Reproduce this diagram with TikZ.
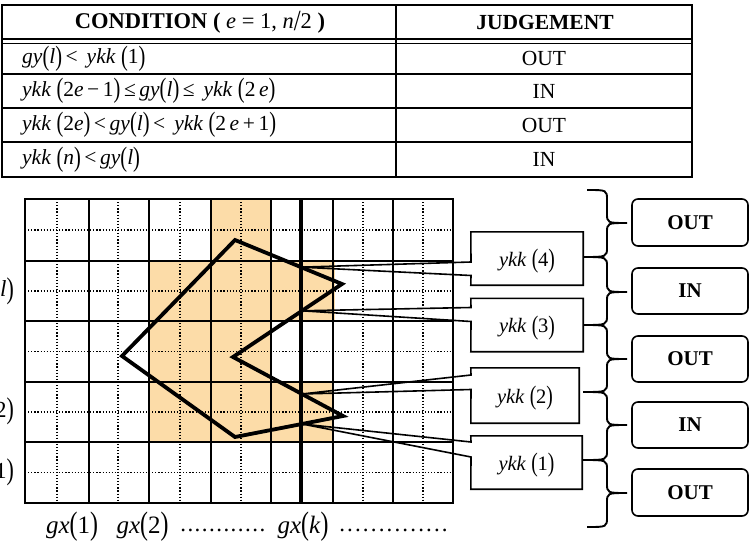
\documentclass[tikz,border=0pt]{standalone}
\usepackage{fontspec}
\usepackage{graphicx}
\setmainfont{Liberation Serif}
\usetikzlibrary{calc}
\definecolor{cellfill}{RGB}{252,220,168}
% tall delimiters and italic variables
\newcommand\bp[1]{\raisebox{-0.07em}{\scalebox{0.95}[1.3]{(}}#1\raisebox{-0.07em}{\scalebox{0.95}[1.3]{)}}}
\newcommand\vi[1]{\textit{#1}}
\newcommand\fs[1]{\fontsize{#1}{#1}\selectfont}
% one dot centred in a box of the given width
\newcommand\dt[1]{\makebox[#1]{.}}

\begin{document}
\begin{tikzpicture}[x=1pt,y=-1pt,
  tline/.style={line width=2.4pt},
  major/.style={line width=1.8pt},
  minor/.style={line width=1.2pt, dash pattern=on 1.2pt off 1.9pt},
  poly/.style={line width=3.8pt, line join=miter},
  callline/.style={line width=1.6pt, line join=miter},
  callbox/.style={inner sep=0pt, minimum width=112pt, minimum height=53pt},
  calltext/.style={inner sep=0pt, font=\fs{20.5}},
  brace/.style={line width=1.9pt},
  verdict/.style={draw, line width=1.6pt, rounded corners=6pt, minimum width=116pt,
    minimum height=47pt, font=\fs{21}\bfseries, inner sep=0pt},
  cell/.style={inner sep=0pt, font=\fs{21.5}},
  axlabel/.style={inner sep=0pt, font=\fs{23}},
]
\useasboundingbox (0,0) rectangle (750,543);

% ---------- condition table ----------
\draw[tline] (2,5) rectangle (692,177);
\draw[tline] (2,39) -- (692,39);
\draw[line width=1.6pt] (2,43.5) -- (692,43.5);
\foreach \y in {74,108,142} \draw[tline] (2,\y) -- (692,\y);
\draw[tline] (396,5) -- (396,177);

\node[cell, font=\fs{22.5}] (hc) at (200,22) {\textbf{CONDITION (} \vi{e} = 1, \vi{n}\raisebox{-0.07em}{\scalebox{1.1}[1.3]{/}}2 \textbf{)}};
\node[cell, font=\fs{21.5}] (hj) at (545,22) {\textbf{JUDGEMENT}};

\node[cell, anchor=west] (c1) at (22,58.7) {\vi{gy}\bp{\vi{l}}\,{<}\, \vi{ykk} \bp{1}};
\node[cell, anchor=west] (c2) at (22,91) {\vi{ykk} \bp{2\vi{e}\,−\,1}\,≤\,\vi{gy}\bp{\vi{l}}\,≤\, \vi{ykk} \bp{2\,\vi{e}}};
\node[cell, anchor=west] (c3) at (22,125) {\vi{ykk} \bp{2\vi{e}}\,{<}\,\vi{gy}\bp{\vi{l}}\,{<}\, \vi{ykk} \bp{2\,\vi{e}\,+\,1}};
\node[cell, anchor=west] (c4) at (22,159.5) {\vi{ykk} \bp{\vi{n}}\,{<}\,\vi{gy}\bp{\vi{l}}};

\node[cell] (j1) at (544,58.7) {OUT};
\node[cell] (j2) at (544,91) {IN};
\node[cell] (j3) at (544,125) {OUT};
\node[cell] (j4) at (544,159.5) {IN};

% ---------- grid ----------
\fill[cellfill] (210,199) rectangle (271,261);
\fill[cellfill] (149,261) rectangle (335,321);
\fill[cellfill] (149,321) rectangle (271,382);
\fill[cellfill] (149,382) rectangle (333,442);

\foreach \x in {57,118,180,241,363,423} \draw[minor] (\x,199) -- (\x,503);
\foreach \y in {230,291,351.5,412,472.5} \draw[minor] (25,\y) -- (453,\y);
\foreach \x in {89,149,211,271,333,393} \draw[major] (\x,199) -- (\x,503);
\foreach \y in {261,321,382,442} \draw[major] (25,\y) -- (453,\y);
\draw[major] (25,199) rectangle (453,503);
\draw[line width=4pt] (301,199) -- (301,502);

% ---------- polygon ----------
\coordinate (A) at (235,240);
\coordinate (B) at (342,284);
\coordinate (C) at (233,357);
\coordinate (D) at (343,416);
\coordinate (E) at (235,437);
\coordinate (F) at (122,356);
\draw[poly] (A) -- (B) -- (C) -- (D) -- (E) -- (F) -- cycle;

\coordinate (p4) at ($(A)!0.617!(B)$);
\coordinate (p3) at ($(B)!0.367!(C)$);
\coordinate (p2) at ($(C)!0.627!(D)$);
\coordinate (p1) at ($(D)!0.38!(E)$);

% ---------- callouts ----------
\node[callbox] (k4) at (527,258.5) {};
\node[callbox] (k3) at (527,325) {};
\node[callbox, minimum width=108pt, minimum height=55pt] (k2) at (525,395.5) {};
\node[callbox, minimum width=111pt] (k1) at (526.5,462.5) {};
\node[calltext] (k4t) at ($(k4.center)+(0,3)$) {\vi{ykk} \bp{4}};
\node[calltext] (k3t) at ($(k3.center)+(0,3)$) {\vi{ykk} \bp{3}};
\node[calltext] (k2t) at ($(k2.center)+(0,3)$) {\vi{ykk} \bp{2}};
\node[calltext] (k1t) at ($(k1.center)+(0,3)$) {\vi{ykk} \bp{1}};

\coordinate (k4a) at (471,262);   \coordinate (k4b) at (471,275.5);
\coordinate (k3a) at (471,307.5); \coordinate (k3b) at (471,321.5);
\coordinate (k2a) at (471,375);   \coordinate (k2b) at (471,389.5);
\coordinate (k1a) at (471,442);   \coordinate (k1b) at (471,457);

\draw[callline] (k4.north west) -- (k4.north east) -- (k4.south east) -- (k4.south west) -- (k4b) -- (p4) -- (k4a) -- cycle;
\draw[callline] (k3.north west) -- (k3.north east) -- (k3.south east) -- (k3.south west) -- (k3b) -- (p3) -- (k3a) -- cycle;
\draw[callline] (k2.north west) -- (k2.north east) -- (k2.south east) -- (k2.south west) -- (k2b) -- (p2) -- (k2a) -- cycle;
\draw[callline] (k1.north west) -- (k1.north east) -- (k1.south east) -- (k1.south west) -- (k1b) -- (p1) -- (k1a) -- cycle;

% ---------- braces ----------
\draw[brace] (587,190) .. controls (607,190) .. (607,200) -- (607,213) .. controls (607,223) .. (627,223)
  .. controls (607,223) .. (607,233) -- (607,247) .. controls (607,257) .. (583,257)
  .. controls (607,257) .. (607,267) -- (607,282) .. controls (607,292) .. (627,292)
  .. controls (607,292) .. (607,302) -- (607,315) .. controls (607,325) .. (583,325)
  .. controls (607,325) .. (607,335) -- (607,349) .. controls (607,359) .. (627,359)
  .. controls (607,359) .. (607,369) -- (607,382) .. controls (607,392) .. (583,392)
  .. controls (607,392) .. (607,402) -- (607,415) .. controls (607,425) .. (627,425)
  .. controls (607,425) .. (607,435) -- (607,450) .. controls (607,460) .. (583,460)
  .. controls (607,460) .. (607,470) -- (607,483) .. controls (607,493) .. (627,493)
  .. controls (607,493) .. (607,503) -- (607,517) .. controls (607,527) .. (587,527);

% ---------- verdict boxes ----------
\node[verdict] (v1) at (690,222.5) {OUT};
\node[verdict, minimum height=46pt] (v2) at (690,291) {IN};
\node[verdict, minimum height=46pt] (v3) at (690,359) {OUT};
\node[verdict, minimum height=46pt] (v4) at (690,425) {IN};
\node[verdict] (v5) at (690,492.5) {OUT};

% ---------- axis labels ----------
\node[axlabel, anchor=east] (gyl) at (14,291) {\vi{gy}\bp{\vi{l}}};
\node[axlabel, anchor=east] (gy2) at (14,411.5) {\vi{gy}\bp{2}};
\node[axlabel, anchor=east] (gy1) at (14,472.5) {\vi{gy}\bp{1}};

\node[axlabel, font=\fs{25}, anchor=base] (gx1) at (72,533) {\vi{gx}\bp{1}};
\node[axlabel, font=\fs{25}, anchor=base] (gx2) at (142.5,533) {\vi{gx}\bp{2}};
\node[axlabel, font=\fs{25}, anchor=base] (gxk) at (303,533) {\vi{gx}\bp{\vi{k}}};
\node[axlabel, anchor=base west] (dots1) at (179.4,531)
  {\dt{7.2pt}\dt{7.2pt}\dt{7.2pt}\dt{7.2pt}\dt{7.2pt}\dt{7.2pt}\dt{7.2pt}\dt{7.2pt}\dt{7.2pt}\dt{7.2pt}\dt{7.2pt}\dt{7.2pt}};
\node[axlabel, anchor=base west] (dots2) at (338,531)
  {\dt{7.9pt}\dt{7.9pt}\dt{7.9pt}\dt{7.9pt}\dt{7.9pt}\dt{7.9pt}\dt{7.9pt}\dt{7.9pt}\dt{7.9pt}\dt{7.9pt}\dt{7.9pt}\dt{7.9pt}\dt{7.9pt}\dt{7.9pt}};
\end{tikzpicture}
\end{document}
